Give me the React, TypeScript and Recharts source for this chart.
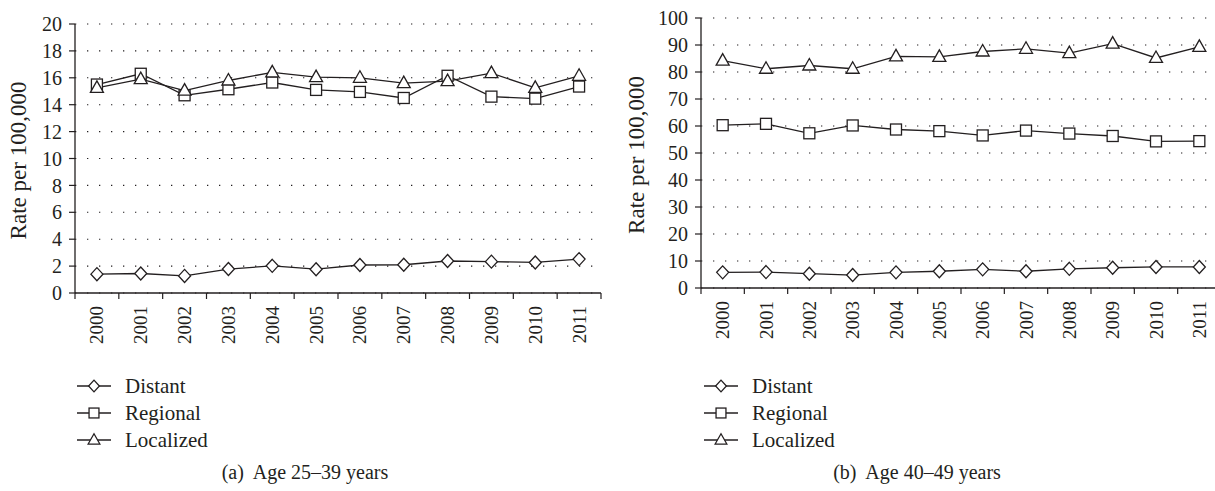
import { CartesianGrid, Label, Legend, Line, LineChart, XAxis, YAxis } from "recharts";

const INK = "#231f20";
const FONT = "Liberation Serif";

const YEARS = ["2000", "2001", "2002", "2003", "2004", "2005", "2006", "2007", "2008", "2009", "2010", "2011"];

// (a) Age 25-39 years
const DISTANT_A = [1.4, 1.45, 1.27, 1.78, 2.02, 1.77, 2.08, 2.1, 2.38, 2.33, 2.27, 2.52];
const REGIONAL_A = [15.5, 16.3, 14.7, 15.15, 15.65, 15.1, 14.95, 14.5, 16.15, 14.6, 14.45, 15.35];
const LOCALIZED_A = [15.25, 15.9, 15.05, 15.8, 16.4, 16.05, 16.0, 15.6, 15.75, 16.35, 15.25, 16.15];
const Y_TICKS_A = [0, 2, 4, 6, 8, 10, 12, 14, 16, 18, 20];

// (b) Age 40-49 years
const DISTANT_B = [5.8, 5.9, 5.3, 4.8, 5.8, 6.2, 6.9, 6.2, 7.1, 7.5, 7.8, 7.8];
const REGIONAL_B = [60.3, 60.8, 57.3, 60.2, 58.7, 58.1, 56.5, 58.3, 57.2, 56.3, 54.3, 54.4];
const LOCALIZED_B = [84.2, 81.2, 82.4, 81.2, 85.8, 85.6, 87.6, 88.6, 87.0, 90.5, 85.2, 89.3];
const Y_TICKS_B = [0, 10, 20, 30, 40, 50, 60, 70, 80, 90, 100];

const SERIES = [
  { key: "distant", name: "Distant", shape: "diamond" },
  { key: "regional", name: "Regional", shape: "square" },
  { key: "localized", name: "Localized", shape: "triangle" },
];

const buildRows = (d: number[], r: number[], l: number[]) =>
  YEARS.map((year, i) => ({ year, distant: d[i], regional: r[i], localized: l[i] }));

const DATA_A = buildRows(DISTANT_A, REGIONAL_A, LOCALIZED_A);
const DATA_B = buildRows(DISTANT_B, REGIONAL_B, LOCALIZED_B);

function Marker({ shape, cx, cy, s = 1 }: { shape: string; cx: number; cy: number; s?: number }) {
  const common = { fill: "#fff", stroke: INK, strokeWidth: 1.3 };
  if (shape === "diamond") {
    return <path d={`M${cx},${cy - 6.5 * s}L${cx + 6 * s},${cy}L${cx},${cy + 6.5 * s}L${cx - 6 * s},${cy}Z`} {...common} />;
  }
  if (shape === "square") {
    return <rect x={cx - 5.5 * s} y={cy - 5.5 * s} width={11 * s} height={11 * s} {...common} />;
  }
  return <path d={`M${cx},${cy - 7 * s}L${cx + 6.5 * s},${cy + 4.5 * s}L${cx - 6.5 * s},${cy + 4.5 * s}Z`} {...common} />;
}

function YearTick(props: any) {
  const { x, payload, index, axisY, bw, count } = props;
  const ty = axisY + 13;
  return (
    <g>
      <line x1={x - bw / 2} y1={axisY} x2={x - bw / 2} y2={axisY + 6} stroke={INK} strokeWidth={1.2} />
      {index === count - 1 && (
        <line x1={x + bw / 2} y1={axisY} x2={x + bw / 2} y2={axisY + 6} stroke={INK} strokeWidth={1.2} />
      )}
      <text
        x={x}
        y={ty}
        transform={`rotate(-90, ${x}, ${ty})`}
        textAnchor="end"
        dominantBaseline="central"
        style={{ fontFamily: FONT, fontSize: 19 }}
        fill={INK}
      >
        {payload.value}
      </text>
    </g>
  );
}

function LegendBox({ payload }: any) {
  const items = [...(payload || [])].sort(
    (a: any, b: any) => SERIES.findIndex((s) => s.key === a.dataKey) - SERIES.findIndex((s) => s.key === b.dataKey)
  );
  return (
    <div style={{ fontFamily: FONT, fontSize: 21, color: INK }}>
      {items.map((item: any) => {
        const s = SERIES.find((x) => x.key === item.dataKey) || SERIES[0];
        return (
          <div key={s.key} style={{ display: "flex", alignItems: "center", height: 26.7 }}>
            <svg width={36} height={16} style={{ overflow: "visible" }}>
              <line x1={0} y1={8} x2={34} y2={8} stroke={INK} strokeWidth={1.3} />
              <Marker shape={s.shape} cx={17} cy={8} s={0.9} />
            </svg>
            <span style={{ marginLeft: 12, lineHeight: "20px" }}>{item.value}</span>
          </div>
        );
      })}
    </div>
  );
}

type PanelProps = {
  data: typeof DATA_A;
  yTicks: number[];
  left: number;
  top: number;
  xAxisHeight: number;
  yAxisWidth: number;
  right: number;
  labelX: number;
  legendLeft: number;
};

function Panel({ data, yTicks, left, top, xAxisHeight, yAxisWidth, right, labelX, legendLeft }: PanelProps) {
  const width = 615;
  const height = 360;
  const axisY = height - xAxisHeight;
  const bw = (width - right - yAxisWidth) / YEARS.length;
  return (
    <div style={{ position: "absolute", left, top: 0 }}>
      <LineChart width={width} height={height} data={data} margin={{ top, right, bottom: 0, left: 0 }}>
        <CartesianGrid vertical={false} stroke={INK} strokeWidth={1.1} strokeDasharray="1.3 10.7" />
        <XAxis
          dataKey="year"
          scale="band"
          height={xAxisHeight}
          axisLine={{ stroke: INK, strokeWidth: 1.3 }}
          tickLine={false}
          interval={0}
          tick={(p: any) => <YearTick {...p} axisY={axisY} bw={bw} count={YEARS.length} />}
        />
        <YAxis
          width={yAxisWidth}
          domain={[yTicks[0], yTicks[yTicks.length - 1]]}
          ticks={yTicks}
          interval={0}
          axisLine={{ stroke: INK, strokeWidth: 1.3 }}
          tickLine={{ stroke: INK, strokeWidth: 1.2 }}
          tickSize={6}
          tickMargin={7}
          tick={{ fill: INK, style: { fontFamily: FONT, fontSize: 20 } }}
        >
          <Label
            content={(p: any) => {
              const vb = p.viewBox || {};
              const cy = vb.y + vb.height / 2 + 2;
              return (
                <text
                  x={labelX}
                  y={cy}
                  transform={`rotate(-90, ${labelX}, ${cy})`}
                  textAnchor="middle"
                  dominantBaseline="central"
                  style={{ fontFamily: FONT, fontSize: 23 }}
                  fill={INK}
                >
                  Rate per 100,000
                </text>
              );
            }}
          />
        </YAxis>
        <Legend
          layout="vertical"
          align="center"
          verticalAlign="middle"
          content={<LegendBox />}
          wrapperStyle={{ position: "absolute", left: legendLeft, top: 373, width: "auto" }}
        />
        {SERIES.map((s) => (
          <Line
            key={s.key}
            type="linear"
            dataKey={s.key}
            name={s.name}
            stroke={INK}
            strokeWidth={1.3}
            isAnimationActive={false}
            dot={(p: any) => <Marker key={`${s.key}-${p.index}`} shape={s.shape} cx={p.cx} cy={p.cy} />}
            activeDot={false}
          />
        ))}
      </LineChart>
    </div>
  );
}

const captionStyle = (center: number): React.CSSProperties => ({
  position: "absolute",
  left: center - 150,
  width: 300,
  top: 460,
  lineHeight: "24px",
  textAlign: "center",
  fontFamily: FONT,
  fontSize: 20,
  color: INK,
  whiteSpace: "pre",
});

export default function App() {
  return (
    <div
      style={{
        position: "absolute",
        left: 0,
        top: 0,
        width: 1215,
        height: 491,
        overflow: "hidden",
        background: "#fff",
        fontFamily: FONT,
      }}
    >
      <Panel data={DATA_A} yTicks={Y_TICKS_A} left={0} top={24} xAxisHeight={67} yAxisWidth={75} right={14} labelX={18} legendLeft={77} />
      <Panel data={DATA_B} yTicks={Y_TICKS_B} left={615} top={18} xAxisHeight={72} yAxisWidth={86} right={9} labelX={21} legendLeft={89} />
      <div style={captionStyle(305)}>{"(a)  Age 25–39 years"}</div>
      <div style={captionStyle(917)}>{"(b)  Age 40–49 years"}</div>
    </div>
  );
}
